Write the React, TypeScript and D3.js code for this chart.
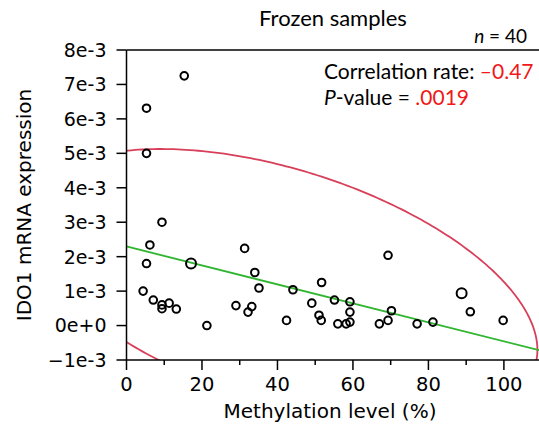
import React from 'react';
import * as d3 from 'd3';

// Methylation level (%) for each sample
const methylation = [
  15.3, 5.3, 5.3, 9.4, 6.2, 5.3, 17.1, 4.4, 7.1, 9.4,
  9.4, 11.3, 13.2, 21.3, 31.3, 34.0, 35.1, 29.0, 32.2, 33.2,
  42.4, 44.1, 49.1, 51.7, 51.0, 51.6, 55.1, 59.2, 59.2, 56.0,
  58.2, 59.2, 69.3, 70.2, 69.3, 67.0, 77.0, 81.2, 88.8, 91.1, 99.8,
];
// IDO1 mRNA expression (x 1e-3)
const ido1 = [
  7.25, 6.31, 5.0, 3.0, 2.34, 1.8, 1.8, 1.0, 0.74, 0.6,
  0.49, 0.65, 0.48, 0.0, 2.24, 1.54, 1.09, 0.58, 0.39, 0.55,
  0.15, 1.04, 0.65, 1.25, 0.3, 0.15, 0.74, 0.69, 0.39, 0.05,
  0.05, 0.1, 2.04, 0.43, 0.15, 0.05, 0.05, 0.1, 0.94, 0.4, 0.15,
];
// overlapping samples drawn as a larger marker
const overlap = [
  1, 1, 1, 1, 1, 1, 2, 1, 1, 1,
  1, 1, 1, 1, 1, 1, 1, 1, 1, 1,
  1, 1, 1, 1, 1, 1, 1, 1, 1, 1,
  1, 1, 1, 1, 1, 1, 1, 1, 2, 1, 1,
];

const yTicks = [-1, 0, 1, 2, 3, 4, 5, 6, 7, 8];
const yTickLabels = ['\u22121e-3', '0e+0', '1e-3', '2e-3', '3e-3', '4e-3', '5e-3', '6e-3', '7e-3', '8e-3'];
const xMajorTicks = [0, 20, 40, 60, 80, 100];
const xMinorTicks = [10, 30, 50, 70, 90];

const title = 'Frozen samples';
const xTitle = 'Methylation level (%)';
const yTitle = 'IDO1 mRNA expression';
const nText = '40';
const corrText = '\u20130.47';
const pText = '.0019';
const chi2Level = 5.991; // 95% data ellipse

const W = 539;
const H = 430;
const L = 126.5;
const R = 539;
const T = 50;
const B = 360;

export default function App() {
  const x = d3.scaleLinear().domain([0, 109.3]).range([L, R]);
  const y = d3.scaleLinear().domain([-1, 8]).range([B, T]);

  const n = methylation.length;
  const mx = d3.mean(methylation) as number;
  const my = d3.mean(ido1) as number;
  let sxx = 0, syy = 0, sxy = 0;
  for (let i = 0; i < n; i++) {
    const dx = methylation[i] - mx;
    const dy = ido1[i] - my;
    sxx += dx * dx;
    syy += dy * dy;
    sxy += dx * dy;
  }
  sxx /= n - 1; syy /= n - 1; sxy /= n - 1;
  const slope = sxy / sxx;
  const intercept = my - slope * mx;

  const l11 = Math.sqrt(sxx);
  const l21 = sxy / l11;
  const l22 = Math.sqrt(syy - l21 * l21);
  const k = Math.sqrt(chi2Level);
  const ellipsePts: [number, number][] = d3.range(0, 361, 1).map((deg) => {
    const t = (deg * Math.PI) / 180;
    const ex = mx + k * l11 * Math.cos(t);
    const ey = my + k * (l21 * Math.cos(t) + l22 * Math.sin(t));
    return [x(ex), y(ey)];
  });
  const ellipsePath = d3.line()(ellipsePts) as string;

  const x0 = 0, x1 = 109.3;
  const lineData: [number, number][] = [
    [x(x0), y(intercept + slope * x0)],
    [x(x1), y(intercept + slope * x1)],
  ];
  const regPath = d3.line()(lineData) as string;

  const tickFont = "'DejaVu Sans', Verdana, sans-serif";
  const annFont = "Lato, 'Open Sans', sans-serif";

  return (
    <div style={{ position: 'absolute', left: 0, top: 0 }}>
      <svg width={W} height={H} viewBox={`0 0 ${W} ${H}`} style={{ display: 'block', background: '#fff' }}>
        <defs>
          <clipPath id="plotClip">
            <rect x={L} y={T} width={R - L} height={B - T} />
          </clipPath>
        </defs>

        {/* ellipse + regression */}
        <g clipPath="url(#plotClip)">
          <path d={ellipsePath} fill="none" stroke="#d8405a" strokeWidth={1.8} />
          <path d={regPath} fill="none" stroke="#2fb52f" strokeWidth={1.8} />
        </g>

        {/* points */}
        <g>
          {methylation.map((m, i) => (
            <circle
              key={i}
              cx={x(m)}
              cy={y(ido1[i])}
              r={overlap[i] > 1 ? 5 : 3.8}
              fill="none"
              stroke="#000"
              strokeWidth={2}
            />
          ))}
        </g>

        {/* frame */}
        <line x1={L} x2={R} y1={T} y2={T} stroke="#000" strokeWidth={1.5} />
        <line x1={L} x2={R} y1={B} y2={B} stroke="#000" strokeWidth={1.5} />
        <line x1={L} x2={L} y1={T} y2={B} stroke="#000" strokeWidth={1.5} />

        {/* y ticks */}
        {yTicks.map((t, i) => (
          <g key={t}>
            <line x1={L - 10} x2={L} y1={y(t)} y2={y(t)} stroke="#000" strokeWidth={1.5} />
            <text
              x={L - 20}
              y={y(t)}
              dy="0.36em"
              textAnchor="end"
              fontFamily={tickFont}
              fontSize={19}
              fill="#000"
            >
              {yTickLabels[i]}
            </text>
          </g>
        ))}

        {/* x ticks */}
        {xMajorTicks.map((t) => (
          <g key={t}>
            <line x1={x(t)} x2={x(t)} y1={B} y2={B + 10} stroke="#000" strokeWidth={1.5} />
            <text x={x(t)} y={B + 31} textAnchor="middle" fontFamily={tickFont} fontSize={19.5} fill="#000">
              {t}
            </text>
          </g>
        ))}
        {xMinorTicks.map((t) => (
          <line key={t} x1={x(t)} x2={x(t)} y1={B} y2={B + 5} stroke="#000" strokeWidth={1.5} />
        ))}

        {/* axis titles */}
        <text x={330} y={418} textAnchor="middle" fontFamily={tickFont} fontSize={20} fill="#000">
          {xTitle}
        </text>
        <text
          transform={`translate(31, ${(T + B) / 2}) rotate(-90)`}
          textAnchor="middle"
          fontFamily={tickFont}
          fontSize={20}
          fill="#000"
        >
          {yTitle}
        </text>

        {/* title & annotations */}
        <text x={333} y={26} textAnchor="middle" fontFamily={annFont} fontSize={22} fill="#000">
          {title}
        </text>
        <text x={527} y={43} textAnchor="end" fontFamily={annFont} fontSize={19} fill="#000">
          <tspan fontStyle="italic">n</tspan>
          <tspan> = {nText}</tspan>
        </text>
        <text x={324} y={79} fontFamily={annFont} fontSize={21} fill="#000">
          <tspan>Correlation rate: </tspan>
          <tspan fill="#f01818">{corrText}</tspan>
        </text>
        <text x={324} y={105} fontFamily={annFont} fontSize={21} fill="#000">
          <tspan fontStyle="italic">P</tspan>
          <tspan>-value = </tspan>
          <tspan fill="#f01818">{pText}</tspan>
        </text>
      </svg>
    </div>
  );
}
